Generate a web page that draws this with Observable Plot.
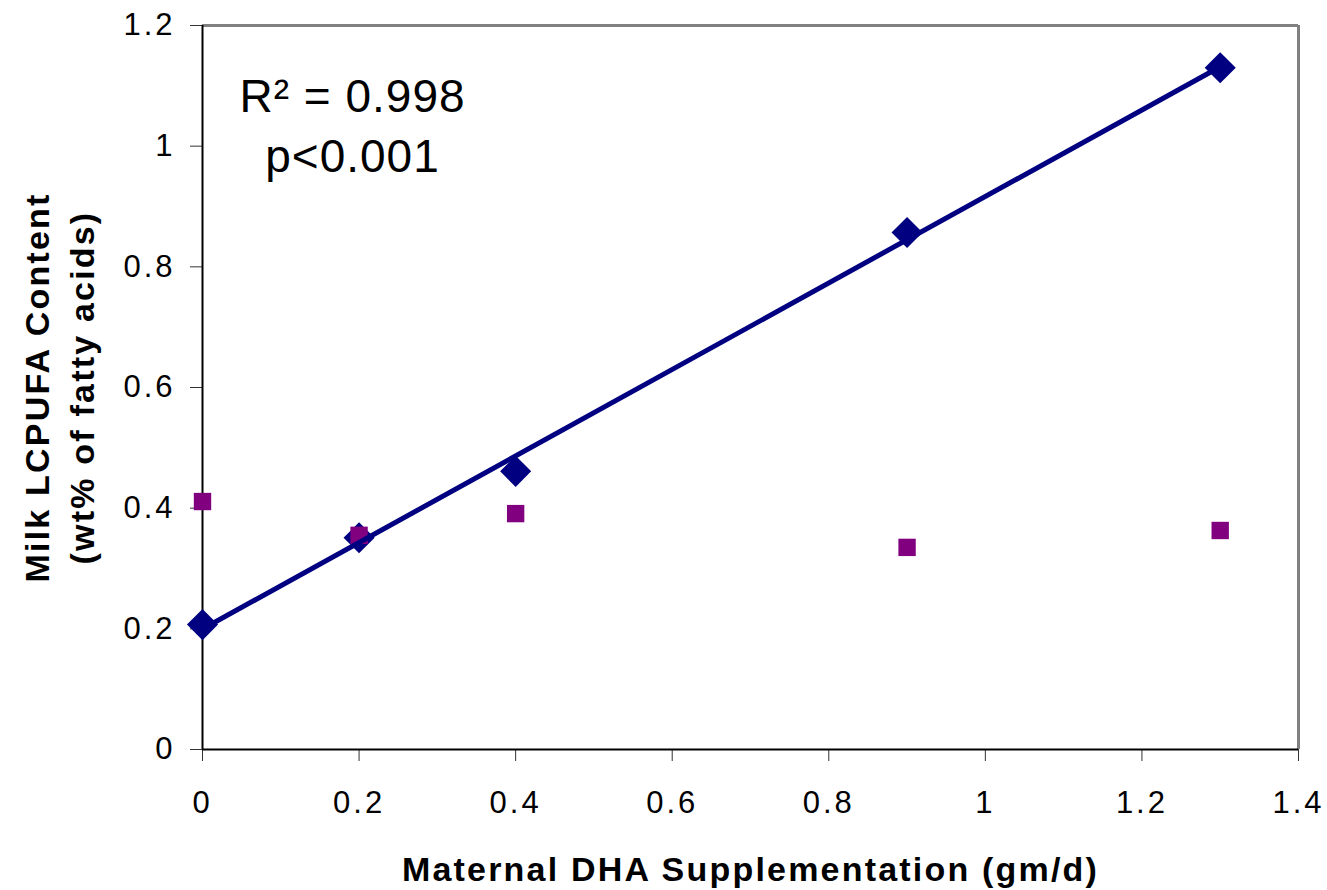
<!DOCTYPE html>
<html>
<head>
<meta charset="utf-8">
<script src="https://cdn.jsdelivr.net/npm/d3@7"></script>
<script src="https://cdn.jsdelivr.net/npm/@observablehq/plot@0.6"></script>
<style>
  html, body { margin: 0; padding: 0; background: white; }
  .ticklbl text { letter-spacing: 3px; }
  .ttl text { letter-spacing: 2.2px; }
  .ann text { letter-spacing: 1px; }
</style>
</head>
<body>
<div id="chart"></div>
<script>
const dhaDose = [0, 0.2, 0.4, 0.9, 1.3];
const lcpufaDiamond = [0.207, 0.351, 0.461, 0.857, 1.130];
const lcpufaSquare = [0.411, 0.355, 0.391, 0.335, 0.363];
const xTicks = [0, 0.2, 0.4, 0.6, 0.8, 1.0, 1.2, 1.4];
const yTicks = [0, 0.2, 0.4, 0.6, 0.8, 1.0, 1.2];
const xTitle = "Maternal DHA Supplementation (gm/d)";
const yTitle = "Milk LCPUFA Content\n(wt% of fatty acids)";
const annotation = "R\u00B2 = 0.998\np<0.001";

const data = dhaDose.map((x, i) => ({x, a: lcpufaDiamond[i], b: lcpufaSquare[i]}));
const fmt = d3.format("~g");

const chart = Plot.plot({
  width: 1327,
  height: 890,
  marginLeft: 202,
  marginRight: 29,
  marginTop: 25,
  marginBottom: 141,
  x: {domain: [0, 1.4]},
  y: {domain: [0, 1.2]},
  style: {fontFamily: "'Liberation Sans', Arial, sans-serif", fontSize: "31px", color: "black", background: "white"},
  marks: [
    Plot.ruleY([1.2], {stroke: "#808080", strokeWidth: 3}),
    Plot.ruleX([1.4], {stroke: "#808080", strokeWidth: 3}),
    Plot.axisX(xTicks, {tickSize: 12, tickPadding: 29, tickFormat: fmt, label: null, fontSize: 31, stroke: "#333", className: "ticklbl"}),
    Plot.axisY(yTicks, {tickSize: 12, tickPadding: 15, tickFormat: fmt, label: null, fontSize: 31, stroke: "#333", className: "ticklbl"}),
    Plot.ruleX([0], {stroke: "black", strokeWidth: 2}),
    Plot.ruleY([0], {stroke: "black", strokeWidth: 2}),
    Plot.dot(data, {x: "x", y: "a", symbol: "diamond2", r: 14, fill: "#000080", stroke: null}),
    Plot.dot(data, {x: "x", y: "b", symbol: "square", r: 9.8, fill: "#800080", stroke: null}),
    Plot.linearRegressionY(data, {x: "x", y: "a", stroke: "#000080", strokeWidth: 5, ci: 0}),
    Plot.text([annotation], {frameAnchor: "top-left", dx: 150, dy: 97, textAnchor: "middle", lineAnchor: "middle", fontSize: 46, lineHeight: 1.3, fill: "black", className: "ann"}),
    Plot.text([xTitle], {frameAnchor: "bottom", dy: 121, textAnchor: "middle", lineAnchor: "middle", fontSize: 34, fontWeight: "bold", fill: "black", className: "ttl"}),
    Plot.text([yTitle], {frameAnchor: "left", dx: -145, rotate: -90, textAnchor: "middle", lineAnchor: "middle", fontSize: 34, fontWeight: "bold", lineHeight: 1.32, fill: "black", className: "ttl"})
  ]
});
document.getElementById("chart").appendChild(chart);
</script>
</body>
</html>
